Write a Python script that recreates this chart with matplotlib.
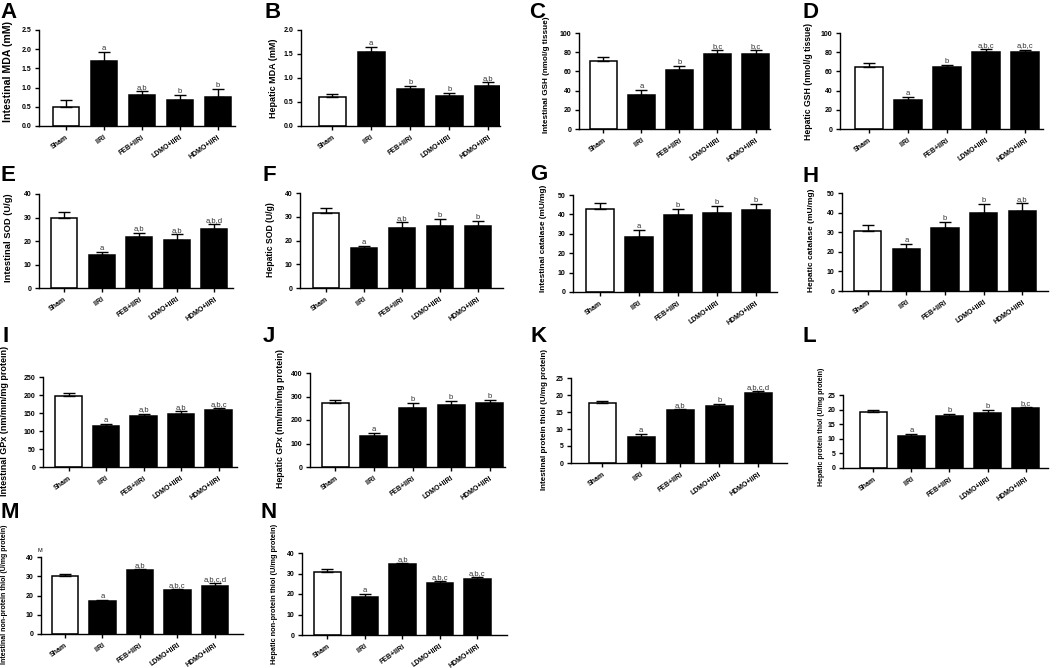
import matplotlib
matplotlib.use("Agg")
import matplotlib.pyplot as plt
import numpy as np

plt.rcParams['font.family'] = ['Liberation Sans', 'DejaVu Sans']

groups = ["Sham", "IIRI", "FEB+IIRI", "LDMO+IIRI", "HDMO+IIRI"]

# A  Intestinal MDA
mda_int = [0.49, 1.69, 0.82, 0.68, 0.75]
mda_int_err = [0.20, 0.23, 0.09, 0.12, 0.22]
mda_int_sig = ["", "a", "a,b", "b", "b"]
# B  Hepatic MDA
mda_hep = [0.60, 1.55, 0.78, 0.63, 0.83]
mda_hep_err = [0.07, 0.09, 0.06, 0.06, 0.09]
mda_hep_sig = ["", "a", "b", "b", "a,b"]
# C  Intestinal GSH
gsh_int = [70.8, 35.4, 61.8, 78.1, 78.1]
gsh_int_err = [3.9, 5.6, 3.8, 4.2, 4.5]
gsh_int_sig = ["", "a", "b", "b,c", "b,c"]
# D  Hepatic GSH
gsh_hep = [64.8, 29.7, 64.1, 80.0, 80.3]
gsh_hep_err = [3.8, 3.4, 2.8, 3.4, 2.5]
gsh_hep_sig = ["", "a", "b", "a,b,c", "a,b,c"]
# E  Intestinal SOD
sod_int = [30.0, 13.9, 21.9, 20.5, 25.3]
sod_int_err = [2.5, 1.4, 1.7, 2.3, 2.1]
sod_int_sig = ["", "a", "a,b", "a,b", "a,b,d"]
# F  Hepatic SOD
sod_hep = [31.7, 17.0, 25.1, 26.2, 26.2]
sod_hep_err = [2.0, 0.5, 2.8, 2.7, 2.2]
sod_hep_sig = ["", "a", "a,b", "b", "b"]
# G  Intestinal catalase
cat_int = [42.6, 28.6, 39.5, 40.9, 42.2]
cat_int_err = [3.1, 3.3, 3.3, 3.4, 3.0]
cat_int_sig = ["", "a", "b", "b", "b"]
# H  Hepatic catalase
cat_hep = [30.4, 21.3, 32.3, 39.6, 41.0]
cat_hep_err = [3.4, 2.8, 2.9, 4.9, 3.9]
cat_hep_sig = ["", "a", "b", "b", "a,b"]
# I  Intestinal GPx
gpx_int = [198, 113, 142.6, 147, 159]
gpx_int_err = [8, 6, 6, 9, 6]
gpx_int_sig = ["", "a", "a,b", "a,b", "a,b,c"]
# J  Hepatic GPx
gpx_hep = [274, 133, 253, 264, 271]
gpx_hep_err = [13, 13, 20, 16, 13]
gpx_hep_sig = ["", "a", "b", "b", "b"]
# K  Intestinal protein thiol
pt_int = [17.6, 7.7, 15.6, 16.7, 20.6]
pt_int_err = [0.7, 0.7, 0.4, 0.7, 0.5]
pt_int_sig = ["", "a", "a,b", "b", "a,b,c,d"]
# L  Hepatic protein thiol
pt_hep = [19.1, 11.0, 17.8, 19.0, 20.6]
pt_hep_err = [0.7, 0.8, 0.6, 0.8, 0.4]
pt_hep_sig = ["", "a", "b", "b", "b,c"]
# M  Intestinal non-protein thiol
npt_int = [30.0, 17.3, 33.1, 22.7, 25.1]
npt_int_err = [1.2, 0.5, 0.8, 0.8, 1.2]
npt_int_sig = ["", "a", "a,b", "a,b,c", "a,b,c,d"]
# N  Hepatic non-protein thiol
npt_hep = [30.9, 18.6, 34.5, 25.4, 27.5]
npt_hep_err = [1.2, 1.6, 0.8, 0.8, 0.8]
npt_hep_sig = ["", "a", "a,b", "a,b,c", "a,b,c"]

panel_letters = list("ABCDEFGHIJKLMN")
ylabels = [
    "Intestinal MDA (mM)", "Hepatic MDA (mM)",
    "Intestinal GSH (nmol/g tissue)", "Hepatic GSH (nmol/g tissue)",
    "Intestinal SOD (U/g)", "Hepatic SOD (U/g)",
    "Intestinal catalase (mU/mg)", "Hepatic catalase (mU/mg)",
    "Intestinal GPx (nm/min/mg protein)", "Hepatic GPx (nm/min/mg protein)",
    "Intestinal protein thiol (U/mg protein)", "Hepatic protein thiol (U/mg protein)",
    "Intestinal non-protein thiol (U/mg protein)", "Hepatic non-protein thiol (U/mg protein)",
]
means = [mda_int, mda_hep, gsh_int, gsh_hep, sod_int, sod_hep, cat_int, cat_hep,
         gpx_int, gpx_hep, pt_int, pt_hep, npt_int, npt_hep]
errs = [mda_int_err, mda_hep_err, gsh_int_err, gsh_hep_err, sod_int_err, sod_hep_err,
        cat_int_err, cat_hep_err, gpx_int_err, gpx_hep_err, pt_int_err, pt_hep_err,
        npt_int_err, npt_hep_err]
sigs = [mda_int_sig, mda_hep_sig, gsh_int_sig, gsh_hep_sig, sod_int_sig, sod_hep_sig,
        cat_int_sig, cat_hep_sig, gpx_int_sig, gpx_hep_sig, pt_int_sig, pt_hep_sig,
        npt_int_sig, npt_hep_sig]
# y-axis: (max, step, format)
yaxes = [(2.5, 0.5, "{:.1f}"), (2.0, 0.5, "{:.1f}"), (100, 20, "{:.0f}"), (100, 20, "{:.0f}"),
         (40, 10, "{:.0f}"), (40, 10, "{:.0f}"), (50, 10, "{:.0f}"), (50, 10, "{:.0f}"),
         (250, 50, "{:.0f}"), (400, 100, "{:.0f}"), (25, 5, "{:.0f}"), (25, 5, "{:.0f}"),
         (40, 10, "{:.0f}"), (40, 10, "{:.0f}")]

# ---- layout (pixels) ----
W, H = 1059, 668
axes_px = [  # left, top, right, bottom
    (39, 30, 235, 126), (301, 30, 500, 126), (579, 33, 770, 129), (840, 33, 1043, 129),
    (39, 194, 233, 288), (300, 193, 503, 288), (573, 195, 777, 292), (842, 193, 1048, 291),
    (43, 377, 237, 467), (310, 373, 505, 467), (571, 378, 787, 463), (843, 395, 1048, 468),
    (41, 557, 243, 634), (302, 553, 507, 635),
]
xmargins = [(0.71, 0.45), (0.8, 0.3), (0.64, 0.38), (0.74, 0.46),
            (0.67, 0.5), (0.68, 0.66), (0.69, 0.54), (0.67, 0.67),
            (0.68, 0.49), (0.66, 0.4), (0.8, 0.74), (0.8, 0.59),
            (0.64, 0.75), (0.68, 0.79)]
# ylabel centre x, centre y, target length (px)
ylabel_px = [(13, 71, 102), (278, 78, 80), (550, 75, 118), (813, 81, 118),
             (13, 238, 90), (275, 240, 76), (547, 238, 110), (815, 240, 104),
             (9, 421, 152), (285, 419, 142), (548, 420, 144), (825, 427, 119),
             (8, 594, 142), (278, 594, 142)]
letter_px = [(0, 18), (264, 18), (529, 18), (803, 18),
             (1, 181), (263, 181), (530, 180), (802, 182),
             (2, 342), (263, 342), (530, 342), (803, 342),
             (0, 518), (261, 518)]

fig = plt.figure(figsize=(W / 100, H / 100), dpi=100)
renderer = fig.canvas.get_renderer()

x = np.arange(len(groups))
for i in range(14):
    l, t, r, b = axes_px[i]
    ax = fig.add_axes([l / W, 1 - b / H, (r - l) / W, (b - t) / H])
    colors = ["white"] + ["black"] * 4
    ax.bar(x, means[i], width=0.7, color=colors, edgecolor="black", linewidth=1.1, zorder=2)
    ax.errorbar(x, means[i], yerr=[np.zeros(5), errs[i]], fmt="none", ecolor="black",
                elinewidth=1.0, capsize=4, capthick=1.0, zorder=3)
    ymax, step, fmt = yaxes[i]
    ax.set_ylim(0, ymax)
    ticks = np.arange(0, ymax + step / 2, step)
    ax.set_yticks(ticks)
    ax.set_yticklabels([fmt.format(v) for v in ticks])
    ml, mr = xmargins[i]
    ax.set_xlim(-ml, 4 + mr)
    ax.set_xticks(x)
    ax.set_xticklabels(groups, rotation=35, ha="right", rotation_mode="anchor")
    for s in ["top", "right"]:
        ax.spines[s].set_visible(False)
    for s in ["left", "bottom"]:
        ax.spines[s].set_linewidth(1.0)
    ax.tick_params(axis="both", length=3, width=1.0, labelsize=5, pad=2.5)
    for lab in ax.get_xticklabels() + ax.get_yticklabels():
        lab.set_fontweight("bold")
    for xi, m, e, s in zip(x, means[i], errs[i], sigs[i]):
        if s:
            ax.text(xi, m + e, s, ha="center", va="bottom", fontsize=5.5, color="#333333")
    lx, ly, llen = ylabel_px[i]
    yl = ax.set_ylabel(ylabels[i], fontsize=6.0, fontweight="bold")
    h = yl.get_window_extent(renderer).height
    yl.set_fontsize(6.0 * llen / h)
    ax.yaxis.set_label_coords(lx / W, 1 - ly / H, transform=fig.transFigure)
    px, py = letter_px[i]
    fig.text(px / W, 1 - py / H, panel_letters[i], fontsize=16, fontweight="bold",
             ha="left", va="baseline")

fig.text(40 / W, 1 - 550 / H, "M", fontsize=4, ha="center", va="center")

fig.savefig("out.png", dpi=100, facecolor="white")
